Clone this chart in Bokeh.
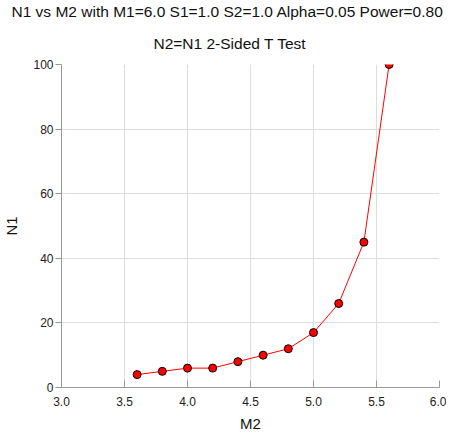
from bokeh.plotting import figure
from bokeh.models import Title, Range1d, FixedTicker, NumeralTickFormatter
from bokeh.embed import file_html
from bokeh.resources import INLINE

m2 = [3.6, 3.8, 4.0, 4.2, 4.4, 4.6, 4.8, 5.0, 5.2, 5.4, 5.6]
n1 = [4, 5, 6, 6, 8, 10, 12, 17, 26, 45, 100]
x_ticks = [3.0, 3.5, 4.0, 4.5, 5.0, 5.5, 6.0]
y_ticks = [0, 20, 40, 60, 80, 100]
title_line1 = "N1 vs M2 with M1=6.0 S1=1.0 S2=1.0 Alpha=0.05 Power=0.80"
title_line2 = "N2=N1 2-Sided T Test"

FONT = "Liberation Sans"

p = figure(frame_width=378, frame_height=323, output_backend="svg", toolbar_location=None,
           x_range=Range1d(3.0, 6.0), y_range=Range1d(0, 100),
           min_border_left=53, min_border_right=7, min_border_top=64, min_border_bottom=47,
           title=None)
p.outline_line_color = None

p.add_layout(Title(text=title_line2, align="left", text_font=FONT,
                   text_font_size="15.5px", text_font_style="normal", text_color="#111111",
                   offset=92, standoff=26), "above")
p.add_layout(Title(text=title_line1, align="left",
                   text_font=FONT, text_font_size="15.5px", text_font_style="normal",
                   text_color="#111111", offset=-50, standoff=0), "above")

p.line(m2, n1, line_color="#ff0000", line_width=1)
p.scatter(m2, n1, size=8, fill_color="#ff0000", line_color="#000000", line_width=1)

p.xaxis.ticker = FixedTicker(ticks=x_ticks)
p.yaxis.ticker = FixedTicker(ticks=y_ticks)
p.xaxis.formatter = NumeralTickFormatter(format="0.0")
p.xaxis.axis_label = "M2"
p.yaxis.axis_label = "N1"

for ax in (p.xaxis, p.yaxis):
    ax.axis_line_color = "#999999"
    ax.major_tick_line_color = "#999999"
    ax.minor_tick_line_color = None
    ax.major_label_text_font = FONT
    ax.major_label_text_font_size = "12px"
    ax.major_label_text_color = "#222222"
    ax.axis_label_text_font = FONT
    ax.axis_label_text_font_size = "15px"
    ax.axis_label_text_font_style = "normal"
    ax.axis_label_text_color = "#111111"

p.xaxis.major_tick_in = 7
p.xaxis.major_tick_out = 0
p.xaxis.major_label_standoff = 9
p.xaxis.axis_label_standoff = 6
p.yaxis.major_tick_in = 0
p.yaxis.major_tick_out = 6
p.yaxis.major_label_standoff = 2
p.yaxis.axis_label_standoff = 10

p.xgrid.grid_line_color = "#dddddd"
p.ygrid.grid_line_color = "#dddddd"
p.xgrid.ticker = FixedTicker(ticks=x_ticks)
p.ygrid.ticker = FixedTicker(ticks=y_ticks)

open("out.html", "w").write(file_html(p, INLINE))
